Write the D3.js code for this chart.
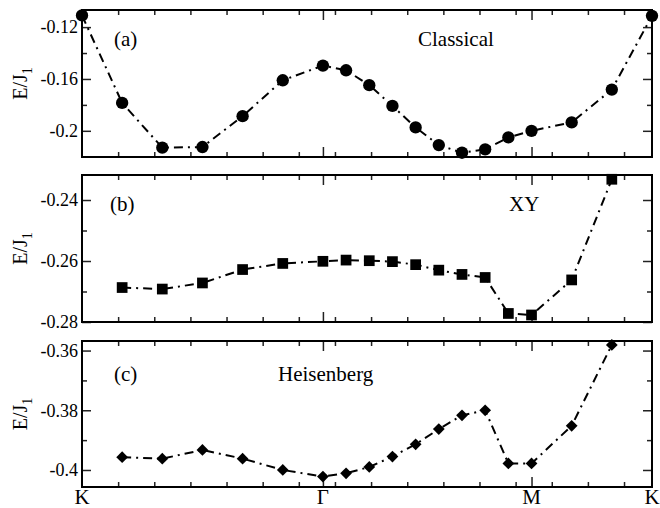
<!DOCTYPE html>
<html>
<head>
<meta charset="utf-8">
<script src="https://cdn.jsdelivr.net/npm/d3@7"></script>
<style>
body { margin: 0; background: #fff; }
</style>
</head>
<body>
<div id="chart"></div>
<script>
// path through the zone, in units of 2pi/a : K -> Gamma -> M -> K
var kpath = [0, 0.1111, 0.2222, 0.3333, 0.4444, 0.5556, 0.6667,
             0.7308, 0.7950, 0.8591, 0.9233, 0.9874, 1.0516, 1.1157, 1.1799, 1.2440,
             1.3551, 1.4662, 1.5774];

var classical = [-0.111, -0.1785, -0.213, -0.2125, -0.1887, -0.161, -0.1497,
                 -0.1533, -0.1648, -0.1808, -0.1974, -0.211, -0.2169, -0.2143, -0.2051, -0.2,
                 -0.1935, -0.1682, -0.1113];
var xyE = [null, -0.2687, -0.2692, -0.2672, -0.2628, -0.2608, -0.2601,
           -0.2597, -0.2599, -0.2602, -0.2612, -0.263, -0.2644, -0.2654, -0.2772, -0.2777,
           -0.2662, -0.2332, null];
var heis = [null, -0.3957, -0.3962, -0.3933, -0.3962, -0.4, -0.4022,
            -0.4011, -0.399, -0.3955, -0.3914, -0.3863, -0.3817, -0.38, -0.3978, -0.3978,
            -0.3852, -0.3581, null];

var symLabels = ["K", "Γ", "M", "K"];
var symPos = [0, 0.6667, 1.2440, 1.5774];
var xMinor = [0.1, 0.2, 0.3, 0.4, 0.5, 0.6, 0.7, 0.8, 0.9, 1.0, 1.1, 1.2, 1.3, 1.4, 1.5];

var yMajorA = [-0.12, -0.16, -0.2], yMinorA = [-0.14, -0.18];
var yMajorB = [-0.24, -0.26, -0.28], yMinorB = [-0.25, -0.27];
var yMajorC = [-0.36, -0.38, -0.4], yMinorC = [-0.37, -0.39];

var panelTags = ["(a)", "(b)", "(c)"];
var panelNames = ["Classical", "XY", "Heisenberg"];

var left = 82, right = 652;
var serif = "'Liberation Serif', 'DejaVu Serif', serif";

var panels = [
  {vals: classical, dom: [-0.2202, -0.1068], top: 10, bottom: 157, major: yMajorA, minor: yMinorA,
   tag: panelTags[0], name: panelNames[0], tagX: 114, nameX: 418, textY: 46, mark: "circle"},
  {vals: xyE, dom: [-0.28, -0.2318], top: 175, bottom: 322, major: yMajorB, minor: yMinorB,
   tag: panelTags[1], name: panelNames[1], tagX: 110, nameX: 509, textY: 211, mark: "square"},
  {vals: heis, dom: [-0.4057, -0.3568], top: 341, bottom: 487, major: yMajorC, minor: yMinorC,
   tag: panelTags[2], name: panelNames[2], tagX: 114, nameX: 278, textY: 381, mark: "diamond"}
];

var svg = d3.select("#chart").append("svg")
    .attr("width", 660)
    .attr("height", 508);

var x = d3.scaleLinear().domain([0, 1.5774]).range([left, right]);

function noDomain(s) { s.select(".domain").remove(); }

panels.forEach(function(p) {
  var y = d3.scaleLinear().domain(p.dom).range([p.bottom, p.top]);
  var g = svg.append("g");

  // y ticks, inside the frame
  var yl = g.append("g").attr("transform", "translate(" + left + ",0)")
    .call(d3.axisLeft(y).tickValues(p.major).tickSize(-9).tickPadding(4)
      .tickFormat(function(d) { return String(d); }))
    .call(noDomain);
  yl.selectAll("text").attr("font-family", serif).attr("font-size", 18).attr("fill", "#000");
  g.append("g").attr("transform", "translate(" + left + ",0)")
    .call(d3.axisLeft(y).tickValues(p.minor).tickSize(-5).tickFormat(""))
    .call(noDomain);
  g.append("g").attr("transform", "translate(" + right + ",0)")
    .call(d3.axisRight(y).tickValues(p.major).tickSize(-9).tickFormat(""))
    .call(noDomain);
  g.append("g").attr("transform", "translate(" + right + ",0)")
    .call(d3.axisRight(y).tickValues(p.minor).tickSize(-5).tickFormat(""))
    .call(noDomain);

  // x ticks top and bottom
  g.append("g").attr("transform", "translate(0," + p.bottom + ")")
    .call(d3.axisBottom(x).tickValues(xMinor).tickSize(-5).tickFormat(""))
    .call(noDomain);
  g.append("g").attr("transform", "translate(0," + p.bottom + ")")
    .call(d3.axisBottom(x).tickValues(symPos.slice(1, 3)).tickSize(-10).tickFormat(""))
    .call(noDomain);
  g.append("g").attr("transform", "translate(0," + p.top + ")")
    .call(d3.axisTop(x).tickValues(xMinor).tickSize(-5).tickFormat(""))
    .call(noDomain);
  g.append("g").attr("transform", "translate(0," + p.top + ")")
    .call(d3.axisTop(x).tickValues(symPos.slice(1, 3)).tickSize(-10).tickFormat(""))
    .call(noDomain);

  g.selectAll(".tick line").attr("stroke", "#222").attr("stroke-width", 1.5);

  // frame
  g.append("rect")
    .attr("x", left).attr("y", p.top)
    .attr("width", right - left).attr("height", p.bottom - p.top)
    .attr("fill", "none").attr("stroke", "#000").attr("stroke-width", 2);

  // y label
  var lab = g.append("text")
    .attr("transform", "translate(27," + ((p.top + p.bottom) / 2) + ") rotate(-90)")
    .attr("text-anchor", "middle")
    .attr("font-family", serif).attr("font-size", 20);
  lab.append("tspan").text("E/J");
  lab.append("tspan").attr("font-size", 14).attr("dy", 5).text("1");

  // panel texts
  g.append("text").attr("x", p.tagX).attr("y", p.textY)
    .attr("font-family", serif).attr("font-size", 21).text(p.tag);
  g.append("text").attr("x", p.nameX).attr("y", p.textY)
    .attr("font-family", serif).attr("font-size", 21).text(p.name);

  var pts = kpath.map(function(k, i) { return {k: k, e: p.vals[i]}; })
    .filter(function(d) { return d.e !== null; });

  var line = d3.line()
    .x(function(d) { return x(d.k); })
    .y(function(d) { return y(d.e); });

  g.append("path")
    .datum(pts)
    .attr("d", line)
    .attr("fill", "none")
    .attr("stroke", "#000")
    .attr("stroke-width", 2)
    .attr("stroke-dasharray", "9,5,2,5");

  var symType = p.mark == "circle" ? d3.symbolCircle : (p.mark == "square" ? d3.symbolSquare : d3.symbolDiamond2);
  var symSize = p.mark == "circle" ? 120 : (p.mark == "square" ? 115 : 88);

  g.selectAll(".pt")
    .data(pts)
    .enter()
    .append("path")
    .attr("class", "pt")
    .attr("transform", function(d) { return "translate(" + x(d.k) + "," + y(d.e) + ")"; })
    .attr("d", d3.symbol().type(symType).size(symSize))
    .attr("fill", "#000");
});

// symmetry point labels
svg.append("g").selectAll("text")
  .data(symLabels)
  .enter()
  .append("text")
  .attr("x", function(d, i) { return x(symPos[i]); })
  .attr("y", 504)
  .attr("text-anchor", "middle")
  .attr("font-family", serif)
  .attr("font-size", 21)
  .text(function(d) { return d; });
</script>
</body>
</html>
